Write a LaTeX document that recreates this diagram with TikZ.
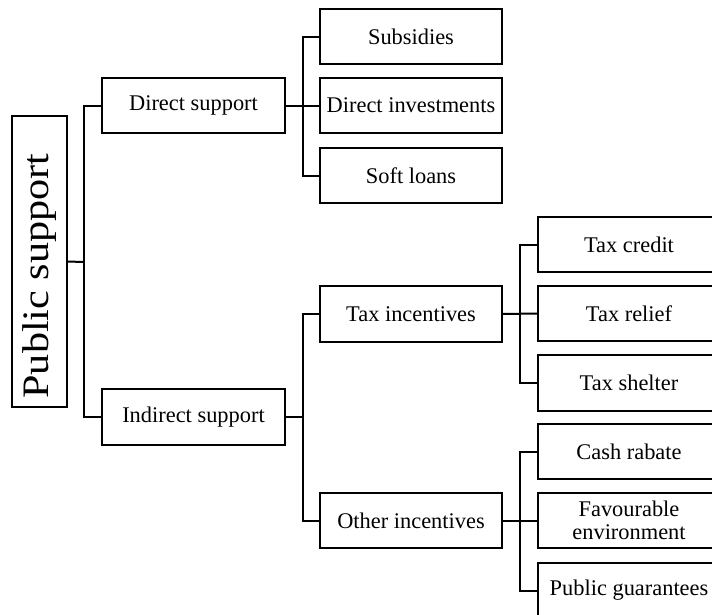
\documentclass[tikz,border=0pt]{standalone}
\usepackage{fontspec}
\setmainfont{Liberation Serif}
\begin{document}
\begin{tikzpicture}[x=0.75pt,y=-0.75pt,
  box/.style={draw=black,line width=1.5pt,inner sep=0pt,outer sep=0pt,
    minimum width=136.5pt,minimum height=41.25pt,align=center,
    font=\fontsize{16.8}{17.5}\selectfont},
  conn/.style={draw=black,line width=1.5pt}]
\useasboundingbox (0,0) rectangle (712,614);
\clip (0,0) rectangle (712,614);
% level 0
\node[box,minimum width=41.25pt,minimum height=218.25pt] (ps) at (39.5,261.5) {};
\node[rotate=90,font=\fontsize{28}{30}\selectfont,inner sep=0pt] (pst) at (40,276) {\scalebox{1.13}[1]{Public support}};
% level 1
\node[box,minimum width=137.25pt] (ds) at (193.5,105.5) {Direct support};
\node[box,minimum width=137.25pt,minimum height=42pt] (is) at (193.5,417) {Indirect support};
% level 2
\node[box] (sub) at (411,36.5) {Subsidies};
\node[box] (dinv) at (411,105.5) {Direct investments};
\node[box] (soft) at (411,175.5) {Soft loans};
\node[box,minimum height=42pt] (ti) at (411,314) {Tax incentives};
\node[box] (oi) at (411,520.5) {Other incentives};
% level 3
\node[box] (tc) at (629,244.5) {Tax credit};
\node[box] (tr) at (629,313.5) {Tax relief};
\node[box,minimum height=42pt] (ts) at (629,383) {Tax shelter};
\node[box] (cr) at (629,451.5) {Cash rabate};
\node[box] (fe) at (629,520.5) {Favourable\\environment};
\node[box] (pg) at (629,590.5) {Public guarantees};
% junctions
\coordinate (j1) at (84,262);
\coordinate (j2) at (302.5,105.5);
\coordinate (j3) at (302.5,417);
\coordinate (j4) at (520,314);
\coordinate (j5) at (520,520.5);
% connectors
\draw[conn] (ps.east) -- (j1);
\draw[conn] (ds.west) -| (j1) |- (is.west);
\draw[conn] (ds.east) -- (dinv.west);
\draw[conn] (sub.west) -| (j2) |- (soft.west);
\draw[conn] (is.east) -- (j3);
\draw[conn] (ti.west) -| (j3) |- (oi.west);
\draw[conn] (ti.east) -- (tr.west);
\draw[conn] (tc.west) -| (j4) |- (ts.west);
\draw[conn] (oi.east) -- (fe.west);
\draw[conn] (cr.west) -| (j5) |- (pg.west);
\end{tikzpicture}
\end{document}
